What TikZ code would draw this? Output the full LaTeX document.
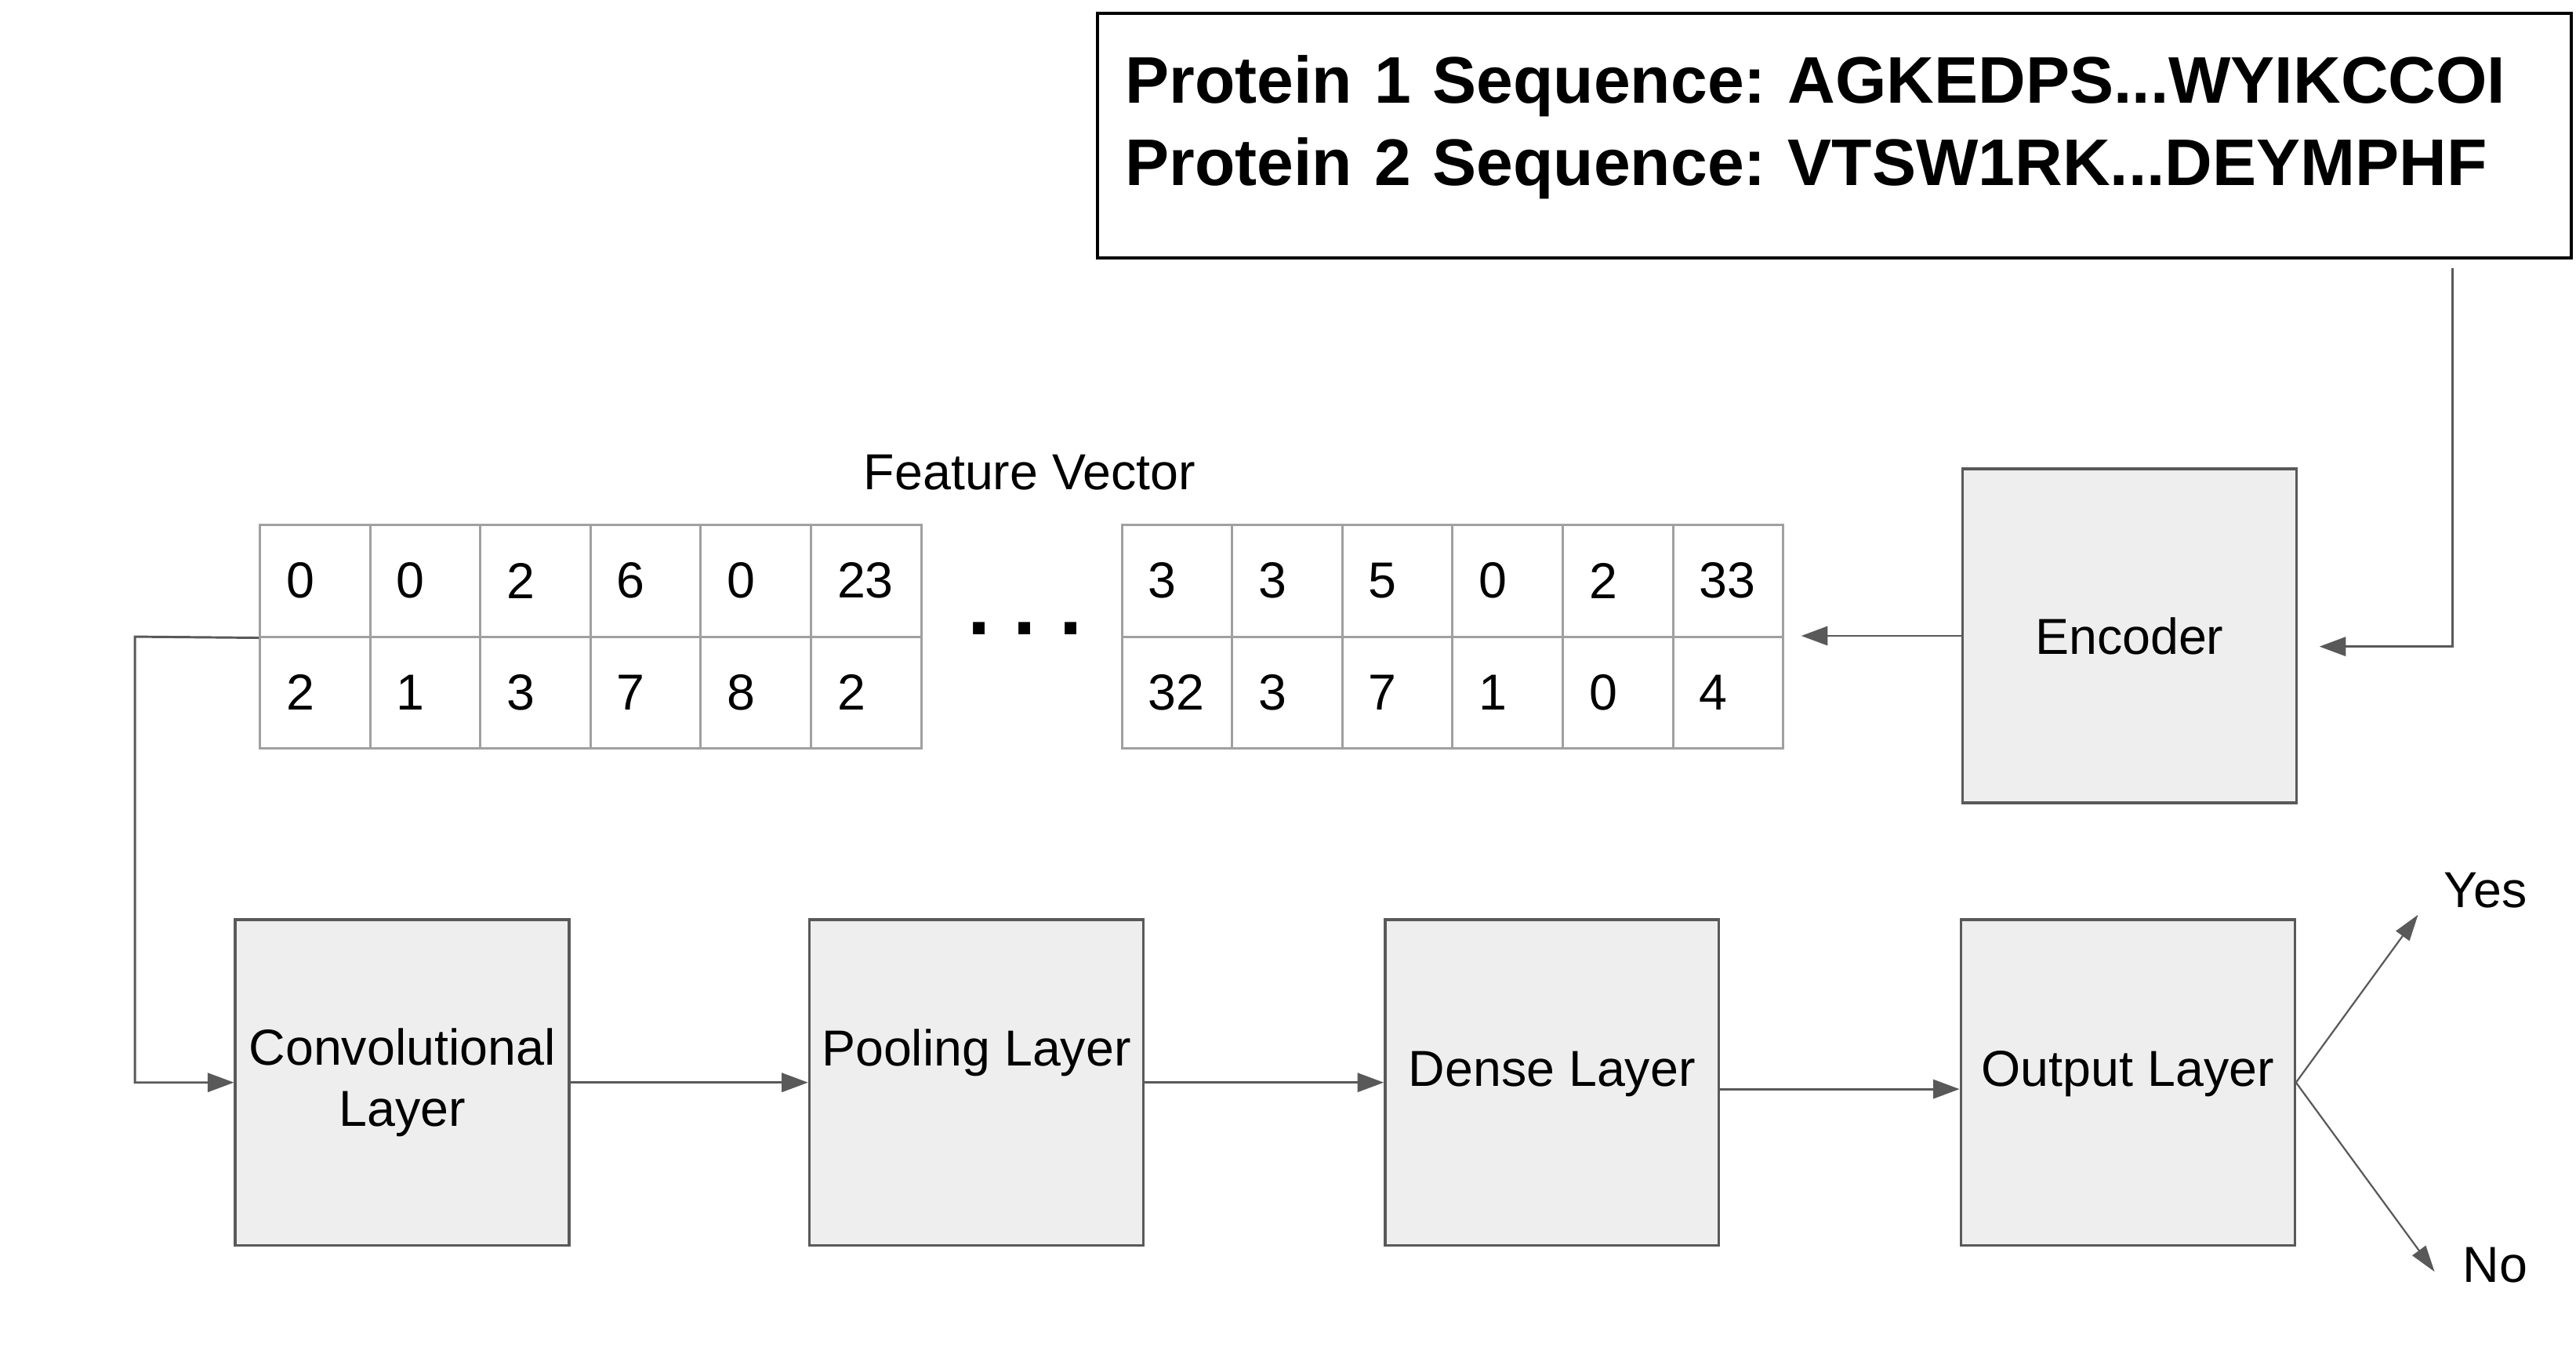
\documentclass[tikz,border=0pt]{standalone}
\usepackage{fontspec}
\setmainfont{Liberation Sans}
\frenchspacing
\usepackage{tikz}
\usetikzlibrary{arrows.meta,positioning}
\definecolor{edgegray}{HTML}{595959}
\definecolor{boxfill}{HTML}{EEEEEE}
\definecolor{cellgray}{HTML}{A0A0A0}

\begin{document}
\begin{tikzpicture}[x=0.02cm,y=-0.02cm,  % one unit = one pixel, y downwards
    txt/.style={font=\fontsize{17.5}{21}\selectfont},
    cell/.style={
      rectangle,draw=cellgray,line width=0.8pt,
      minimum height=1.36cm,
      text width=0.70cm,inner xsep=0.32cm,  % text sits at the left
      align=left,
      txt
    },
    layer/.style={
      rectangle,draw=edgegray,fill=boxfill,
      line width=0.9pt,
      minimum width=4.06cm,
      minimum height=3.96cm,
      align=center,
      txt
    },
    arr/.style={
      draw=edgegray,line width=0.8pt,
      -{Triangle[length=0.32cm,width=0.23cm]}
    },
    thinarr/.style={
      draw=edgegray,line width=0.6pt,
      -{Triangle[length=0.32cm,width=0.2cm]}
    }
  ]
    \useasboundingbox (0,0) rectangle (1566,822.6);

    % Input sequences
    \node[rectangle,draw=black,line width=1.1pt,
      minimum width=17.92cm,minimum height=2.98cm,
      text width=17.24cm,inner xsep=0.34cm,align=left,
      text depth=1.37cm,  % lift the two lines a little
      font=\bfseries\fontsize{22.8}{28.4}\selectfont]
      (seq) at (1115,82.5)
      {Protein 1 Sequence: AGKEDPS...WYIKCCOI\\
       Protein 2 Sequence: VTSW1RK...DEYMPHF};

    % Encoder
    \node[layer,minimum height=4.06cm] (enc) at (1294.5,386.5) {Encoder};

    % Feature vector, left part
    \node[txt] (fvlabel) at (626,287) {Feature Vector};
    \foreach \v [count=\i] in {0,0,2,6,0,23} {
      \node[cell,minimum width=1.34cm] (a-1-\i) at ({191.5+67*(\i-1)},353) {\v};
    }
    \foreach \v [count=\i] in {2,1,3,7,8,2} {
      \node[cell,minimum width=1.34cm] (a-2-\i) at ({191.5+67*(\i-1)},421) {\v};
    }

    % Feature vector, right part
    \foreach \v [count=\i] in {3,3,5,0,2,33} {
      \node[cell,minimum width=1.34cm] (b-1-\i) at ({715.5+67*(\i-1)},353) {\v};
    }
    \foreach \v [count=\i] in {32,3,7,1,0,4} {
      \node[cell,minimum width=1.34cm] (b-2-\i) at ({715.5+67*(\i-1)},421) {\v};
    }

    % Gap between the parts
    \node[anchor=base,inner sep=0pt,
      font=\bfseries\fontsize{28.5}{30}\selectfont] (gap) at (623,386) {. . .};

    % Network layers
    \node[layer] (conv) at (244.5,658) {Convolutional\\Layer};
    \node[layer,text depth=0.85cm] (pool) at (593.5,658) {Pooling Layer};
    \node[layer,text depth=0.33cm] (dense) at (943.5,658) {Dense Layer};
    \node[layer,text depth=0.33cm] (out) at (1293.5,658) {Output Layer};

    % Outcomes
    \node[txt] (yes) at (1511,541) {Yes};
    \node[txt] (no) at (1517,769) {No};

    % Free connector ends
    \coordinate (seqout) at (1491,163);
    \coordinate (encin) at (1410,393);
    \coordinate (gridin) at (1095,386.5);
    \coordinate (bend) at (82,387);
    \coordinate (yestip) at (1470,556);
    \coordinate (notip) at (1480,773);

    % Edges
    \draw[arr] (seqout) |- (encin);
    \draw[arr] (enc.west) -- (gridin);
    \draw[arr] (a-1-1.south west) -- (bend) |- (conv.west);
    \draw[arr] (conv) -- (pool);
    \draw[arr] (pool) -- (dense);
    \draw[arr] ([yshift=-0.08cm]dense.east) -- ([yshift=-0.08cm]out.west);
    \foreach \w in {yestip,notip} {
      \draw[thinarr] (out.east) -- (\w);
    }

  \end{tikzpicture}
\end{document}
